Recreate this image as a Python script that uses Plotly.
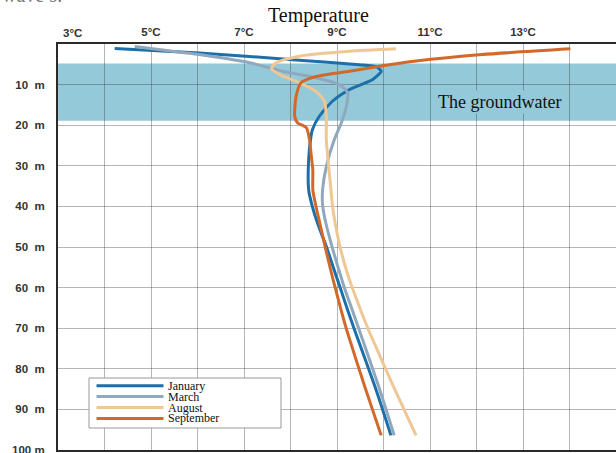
import plotly.graph_objects as go

# ---------------- data ----------------
series_names = ["January", "March", "August", "September"]
series_colors = ["#1d6fa9", "#8fa8bd", "#efc794", "#d2692b"]

jan_temp = [4.22, 6.05, 8.19, 9.48, 9.85, 9.95, 9.76, 9.27, 8.90, 8.62, 8.47, 8.44, 8.39, 8.39, 8.46, 8.58, 8.78, 8.96, 9.08, 9.23, 9.38, 9.82, 10.16]
jan_depth = [1.1, 2.2, 4.0, 5.1, 5.6, 6.7, 8.8, 11.2, 14.1, 17.8, 21.1, 22.8, 28.5, 35.9, 39.6, 44.1, 50.2, 56.4, 60.4, 65.6, 70.5, 84.5, 96.4]

mar_temp = [4.65, 5.83, 7.12, 7.83, 8.55, 9.05, 9.23, 9.20, 9.09, 8.94, 8.77, 8.69, 8.69, 8.76, 8.90, 9.06, 9.17, 9.33, 9.48, 9.90, 10.23]
mar_depth = [0.6, 2.3, 4.6, 6.7, 8.3, 10.0, 12.0, 15.4, 19.5, 23.6, 30.2, 35.9, 39.6, 44.1, 50.2, 56.4, 60.4, 65.6, 70.5, 84.5, 96.4]

aug_temp = [10.27, 9.27, 8.19, 7.69, 7.59, 7.76, 8.19, 8.55, 8.73, 8.77, 8.77, 8.87, 8.90, 8.96, 9.07, 9.22, 9.34, 9.51, 9.68, 10.22, 10.70]
aug_depth = [1.2, 1.8, 3.0, 4.6, 6.1, 7.5, 9.5, 11.7, 14.1, 17.8, 23.6, 35.9, 39.6, 44.1, 50.2, 56.4, 60.4, 65.6, 70.5, 84.5, 96.4]

sep_temp = [14.02, 12.12, 10.70, 9.91, 9.27, 8.55, 8.23, 8.12, 8.09, 8.15, 8.34, 8.41, 8.44, 8.48, 8.48, 8.54, 8.63, 8.75, 8.88, 8.97, 9.09, 9.21, 9.60, 9.95]
sep_depth = [1.2, 2.6, 4.2, 5.5, 6.7, 8.0, 9.5, 12.9, 17.8, 19.4, 20.6, 23.6, 26.8, 31.0, 35.9, 39.6, 44.1, 50.2, 56.4, 60.4, 65.6, 70.5, 84.5, 96.4]

series_temp = [jan_temp, mar_temp, aug_temp, sep_temp]
series_depth = [jan_depth, mar_depth, aug_depth, sep_depth]

x_tick_values = [3, 5, 7, 9, 11, 13]
x_tick_labels = ["3°C", "5°C", "7°C", "9°C", "11°C", "13°C"]
y_tick_values = [10, 20, 30, 40, 50, 60, 70, 80, 90, 100]
y_tick_labels = ["10\u00a0\u00a0m", "20\u00a0\u00a0m", "30\u00a0\u00a0m", "40\u00a0\u00a0m",
                 "50\u00a0\u00a0m", "60\u00a0\u00a0m", "70\u00a0\u00a0m", "80\u00a0\u00a0m",
                 "90\u00a0\u00a0m", "100\u00a0m"]

groundwater_top = 4.8
groundwater_bottom = 18.9
groundwater_label = "The groundwater"
chart_title = "Temperature"

# ---------------- figure ----------------
W, H = 616, 453
ML, MR, MT, MB = 58, 0, 44, 3
PW, PH = W - ML - MR, H - MT - MB


def px_x(p):
    return (p - ML) / PW


def px_y(p):
    return 1 - (p - MT) / PH


fig = go.Figure()
for name, color, t, d in zip(series_names, series_colors, series_temp, series_depth):
    fig.add_trace(go.Scatter(x=t, y=d, mode="lines", name=name,
                             line=dict(color=color, width=3, shape="spline", smoothing=0.6),
                             showlegend=False, cliponaxis=False, hoverinfo="skip"))

# groundwater band
fig.add_shape(type="rect", xref="paper", yref="y", x0=0, x1=1,
              y0=groundwater_top, y1=groundwater_bottom,
              fillcolor="#93c9d9", line=dict(width=0), layer="below")

grid_col = "rgba(60,60,60,0.38)"
tick_font = dict(family="Liberation Sans", size=11.5, color="#333333", weight="bold")

all_x = list(range(3, 16))
fig.update_xaxes(range=[3, 15], side="top", tickmode="array", tickvals=all_x,
                 ticktext=["" if (v not in x_tick_values or v == 3) else x_tick_labels[x_tick_values.index(v)] for v in all_x],
                 showgrid=True, gridcolor=grid_col, gridwidth=1.3, zeroline=False,
                 showline=True, linecolor="#2a2a2a", linewidth=2, mirror=True,
                 ticks="", tickfont=tick_font, ticklabelstandoff=1, automargin=False,
                 ticklabeloverflow="allow")
fig.update_yaxes(range=[100, 0], tickmode="array", tickvals=y_tick_values, ticktext=y_tick_labels,
                 showgrid=True, gridcolor=grid_col, gridwidth=1.3, zeroline=False,
                 showline=True, linecolor="#2a2a2a", linewidth=2, mirror=False,
                 ticks="", tickfont=tick_font, ticklabelstandoff=9, automargin=False,
                 ticklabeloverflow="allow")

annotations = []
# first x tick label (offset to the right in the original)
annotations.append(dict(x=x_tick_values[0], y=1, xref="x", yref="paper", text=x_tick_labels[0],
                        showarrow=False, xanchor="center", yanchor="bottom", xshift=14, yshift=3,
                        font=tick_font))
# groundwater label
annotations.append(dict(x=12.5, y=14.2, xref="x", yref="y", text=groundwater_label, showarrow=False,
                        font=dict(family="Liberation Serif", size=18, color="#111111"),
                        bgcolor="#93c9d9", borderpad=1))
# title
annotations.append(dict(x=px_x(318), y=px_y(15), xref="paper", yref="paper", text=chart_title,
                        showarrow=False, font=dict(family="Liberation Serif", size=20, color="#111111"),
                        xanchor="center", yanchor="middle"))
# clipped text at the top left
annotations.append(dict(x=px_x(0), y=px_y(8), xref="paper", yref="paper", text="wave s:",
                        showarrow=False, xanchor="left", yanchor="bottom",
                        font=dict(family="Liberation Serif", size=20, color="#777777")))

# manual legend
shapes = []
shapes.append(dict(type="rect", xref="paper", yref="paper", x0=px_x(89), x1=px_x(281),
                   y0=px_y(428), y1=px_y(378), fillcolor="white",
                   line=dict(color="#999999", width=1), layer="above"))
for i, (name, color) in enumerate(zip(series_names, series_colors)):
    yy = 385.7 + i * 10.9
    shapes.append(dict(type="line", xref="paper", yref="paper", x0=px_x(96.5), x1=px_x(163.5),
                       y0=px_y(yy), y1=px_y(yy), line=dict(color=color, width=3), layer="above"))
    annotations.append(dict(x=px_x(166), y=px_y(yy), xref="paper", yref="paper", text=name,
                            showarrow=False, xanchor="left", yanchor="middle",
                            font=dict(family="Liberation Serif", size=12, color="#111111")))

for s in shapes:
    fig.add_shape(**s)

fig.update_layout(width=W, height=H, margin=dict(l=ML, r=MR, t=MT, b=MB, autoexpand=False),
                  plot_bgcolor="white", paper_bgcolor="white",
                  annotations=annotations, showlegend=False)

fig.write_html("out.html", config={"displayModeBar": False},
               post_script="document.body.style.margin='0';document.body.style.padding='0';"
                           "document.body.style.overflow='hidden';")
